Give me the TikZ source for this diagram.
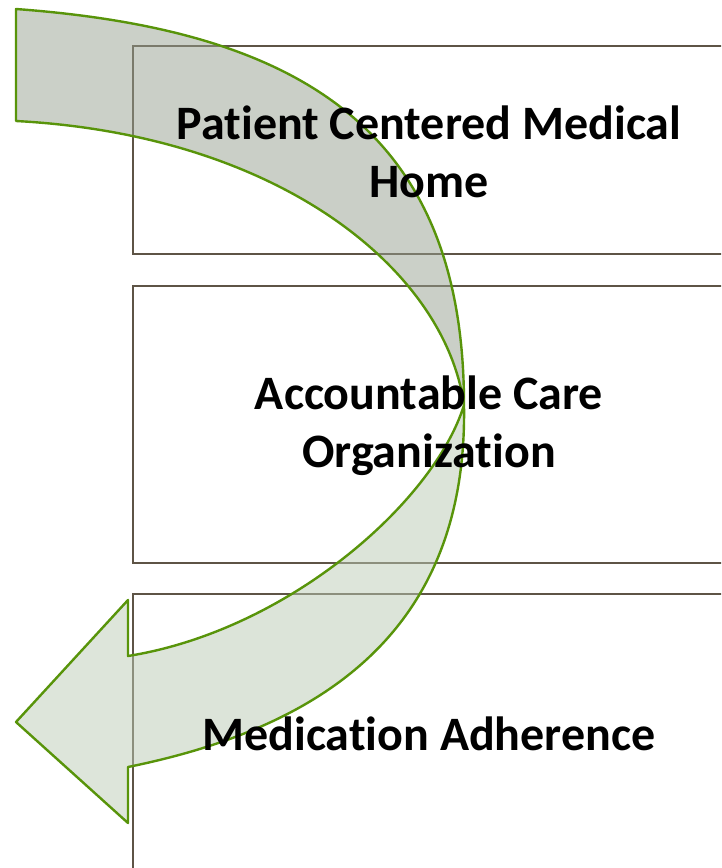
\documentclass[tikz,border=0pt]{standalone}
\usepackage{fontspec}
\setmainfont{Carlito}[Ligatures=NoCommon]
\usepackage{tkz-euclide}
\tikzset{>=stealth}
\definecolor{boxline}{RGB}{94,84,70}
\definecolor{arrowline}{RGB}{88,148,10}
\definecolor{backface}{RGB}{151,161,145}
\definecolor{frontface}{RGB}{187,203,181}

\begin{document}
\begin{tikzpicture}[x=1pt,y=-1pt,
  stagebox/.style={draw=boxline,line width=2pt,fill=white},
  stagetext/.style={font=\bfseries\fontsize{48}{58}\selectfont,align=center,inner sep=0pt},
  uturn/.style={draw=arrowline,line width=2.4pt,line join=round,fill opacity=0.5}]
\useasboundingbox (0,0) rectangle (721,868);
\clip (0,0) rectangle (721,868);
% the three stages
\tkzDefPoints{133/46/A1, 725/254/B1, 133/286/A2, 725/563/B2, 133/594/A3, 725/880/B3}
\draw[stagebox] (A1) rectangle (B1);
\draw[stagebox] (A2) rectangle (B2);
\draw[stagebox] (A3) rectangle (B3);
% curved arrow
\tkzDefPoints{16/9/T1, 16/121/T2, 464/405/X, 128/767/S1, 128/823/H1, 16/722/H0, 128/600/H2, 128/656/S2}
\draw[uturn,fill=backface] (T1) .. controls (300,30) and (464,130) .. (X)
  .. controls (445,270) and (280,135) .. (T2) -- cycle;
\draw[uturn,fill=frontface] (X) .. controls (468,640) and (310,730) .. (S1)
  -- (H1) -- (H0) -- (H2) -- (S2) .. controls (290,630) and (435,500) .. (X) -- cycle;
% labels
\node[stagetext] (pcmh) at (429,152) {Patient Centered Medical\\Home};
\node[stagetext] (aco) at (429,426) {Accountable Care\\Organization};
\node[stagetext,anchor=base] (madh) at (429,750) {Medication Adherence};
\end{tikzpicture}
\end{document}
